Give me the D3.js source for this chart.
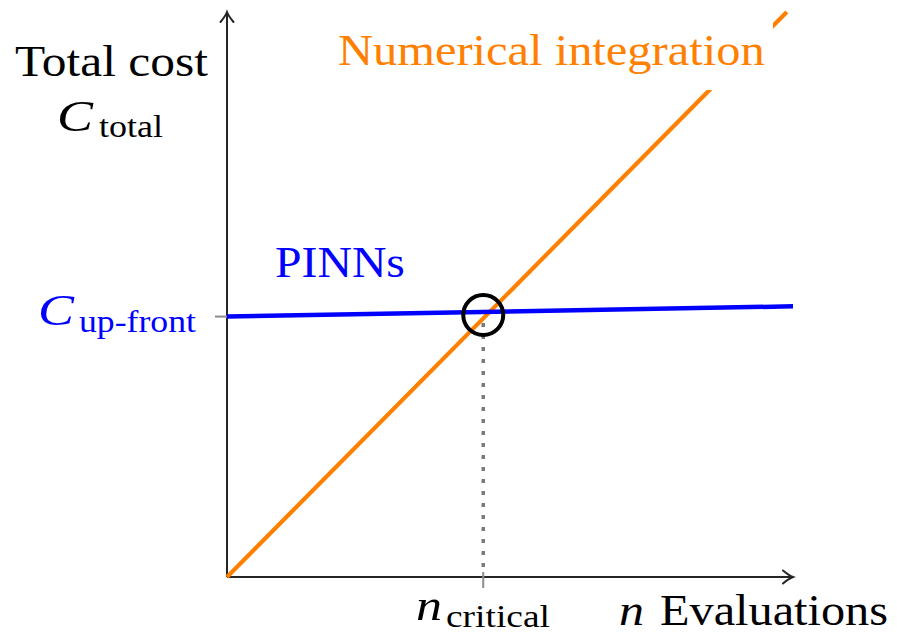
<!DOCTYPE html>
<html>
<head>
<meta charset="utf-8">
<script src="https://cdn.jsdelivr.net/npm/d3@7"></script>
</head>
<body style="margin:0">
<svg id="chart" width="897" height="636" font-family="Liberation Serif" style="font-family: 'Liberation Serif'"></svg>
<script>
// data (arbitrary units)
var nDomain = [0, 11];
var costDomain = [0, 11];
var numericalN = [0, 10.88];
var numericalCost = [0, 11.0];
var pinnN = [0, 11];
var pinnCost = [5.07, 5.27];
var nCritical = 4.98;
var crossCost = 5.1;
var cUpFront = 5.07;

var svg = d3.select('#chart');

var x = d3.scaleLinear().domain(nDomain).range([227, 793]);
var y = d3.scaleLinear().domain(costDomain).range([577, 12]);

var line = d3.line()
  .x(function (d) { return x(d[0]); })
  .y(function (d) { return y(d[1]); });

var axisColor = '#262626';

// axes
svg.append('line')
  .attr('x1', x(0)).attr('y1', y(0))
  .attr('x2', x(nDomain[1]) - 2).attr('y2', y(0))
  .attr('stroke', axisColor).attr('stroke-width', 2);
svg.append('line')
  .attr('x1', x(0)).attr('y1', y(0))
  .attr('x2', x(0)).attr('y2', y(costDomain[1]) + 2)
  .attr('stroke', axisColor).attr('stroke-width', 2);

// latex style arrow heads
var head = 'M -10 -6.5 Q -4 -1.5 0 0 Q -4 1.5 -10 6.5';
svg.append('path')
  .attr('d', head)
  .attr('transform', 'translate(' + x(nDomain[1]) + ',' + y(0) + ')')
  .attr('fill', 'none').attr('stroke', axisColor).attr('stroke-width', 2)
  .attr('stroke-linecap', 'round');
svg.append('path')
  .attr('d', head)
  .attr('transform', 'translate(' + x(0) + ',' + y(costDomain[1]) + ') rotate(-90)')
  .attr('fill', 'none').attr('stroke', axisColor).attr('stroke-width', 2)
  .attr('stroke-linecap', 'round');

// ticks
svg.append('line')
  .attr('x1', x(0) - 12).attr('x2', x(0))
  .attr('y1', y(cUpFront)).attr('y2', y(cUpFront))
  .attr('stroke', '#8c8c8c').attr('stroke-width', 2);
svg.append('line')
  .attr('x1', x(nCritical)).attr('x2', x(nCritical))
  .attr('y1', y(0) - 5).attr('y2', y(0) + 11)
  .attr('stroke', '#8c8c8c').attr('stroke-width', 2);

// dotted guide
svg.append('line')
  .attr('x1', x(nCritical)).attr('x2', x(nCritical))
  .attr('y1', y(crossCost) + 8).attr('y2', y(0) - 4)
  .attr('stroke', '#7a7a7a').attr('stroke-width', 3.5)
  .attr('stroke-dasharray', '4 8');

// numerical integration line
svg.append('path')
  .attr('d', line(d3.zip(numericalN, numericalCost)))
  .attr('fill', 'none')
  .attr('stroke', '#ff8000')
  .attr('stroke-width', 4.2);

// PINNs line
svg.append('path')
  .attr('d', line(d3.zip(pinnN, pinnCost)))
  .attr('fill', 'none')
  .attr('stroke', '#0000ff')
  .attr('stroke-width', 4.5);

// crossing circle
svg.append('circle')
  .attr('cx', x(nCritical)).attr('cy', y(crossCost))
  .attr('r', 20)
  .attr('fill', 'none')
  .attr('stroke', '#000')
  .attr('stroke-width', 4);

// labels, widened a little so they span the same width as the original
function label(txt, px, py, size, color, width, italic) {
  var t = svg.append('text')
    .attr('x', 0).attr('y', 0)
    .attr('font-family', 'Liberation Serif')
    .style('font-family', "'Liberation Serif'")
    .attr('font-size', size)
    .attr('fill', color)
    .text(txt);
  if (italic) t.attr('font-style', 'italic');
  var w = t.node().getComputedTextLength() || width;
  var sx = Math.max(0.8, Math.min(1.3, width / w));
  t.attr('transform', 'translate(' + px + ',' + py + ') scale(' + sx.toFixed(3) + ',1)');
  return t;
}

// white box behind the orange label (cuts the line)
svg.append('rect')
  .attr('x', 330).attr('y', 22)
  .attr('width', 443).attr('height', 68)
  .attr('fill', '#fff');
label('Numerical integration', 338, 65, 44, '#ff8000', 427);

label('Total cost', 15, 76, 44, '#000', 193);
label('C', 57, 131, 45, '#000', 36, true);
label('total', 99, 137, 32, '#000', 64);

label('PINNs', 275, 277, 44, '#0000ff', 130);
label('C', 38, 325, 45, '#0000ff', 36, true);
label('up-front', 79, 332, 32, '#0000ff', 117);

label('n', 416, 620, 45, '#000', 26, true);
label('critical', 446, 627, 32, '#000', 104);
label('n', 619, 625, 45, '#000', 25, true);
label('Evaluations', 660, 625, 44, '#000', 228);
</script>
</body>
</html>
